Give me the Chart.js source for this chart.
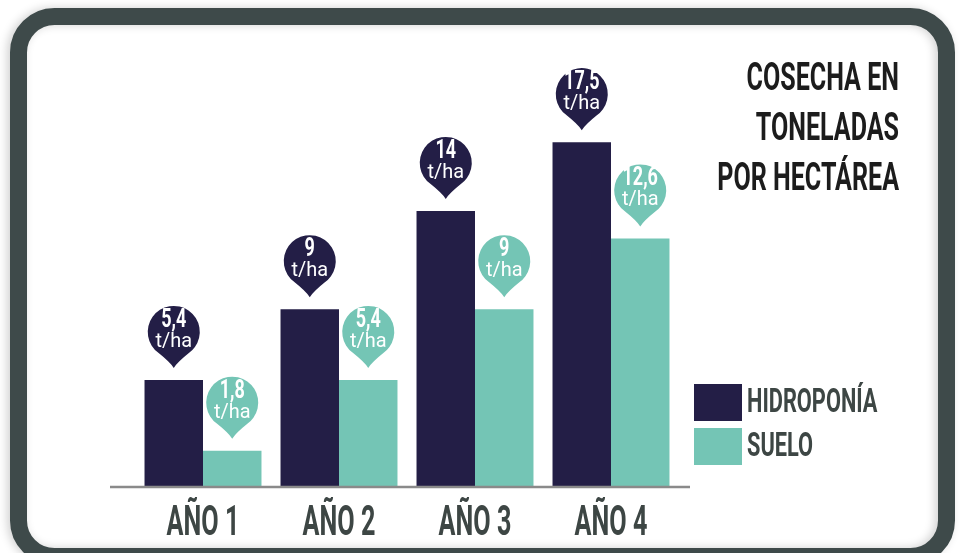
<!DOCTYPE html>
<html>
<head>
<meta charset="utf-8">
<script src="https://cdn.jsdelivr.net/npm/chart.js@4.4.0/dist/chart.umd.min.js"></script>
<style>
  body { margin: 0; background: #fff; }
  canvas { display: block; }
</style>
</head>
<body>
<canvas id="chart" width="960" height="553"></canvas>
<script>
// data
const categories = ["AÑO 1", "AÑO 2", "AÑO 3", "AÑO 4"];
const seriesNames = ["HIDROPONÍA", "SUELO"];
const hidroponia = [5.4, 9, 14, 17.5];
const suelo = [1.8, 5.4, 9, 12.6];
const titleLines = ["COSECHA EN", "TONELADAS", "POR HECTÁREA"];
const unitLabel = "t/ha";

const NAVY = "#231e46";
const TEAL = "#74c5b5";
const FRAME = "#3e4a4a";
const TEXT = "#3d4644";

// condensed text: squeeze a normal font horizontally
function squeezeText(ctx, text, x, y, font, color, align, sx) {
  ctx.save();
  ctx.font = font;
  ctx.fillStyle = color;
  ctx.textAlign = align;
  ctx.textBaseline = "alphabetic";
  ctx.translate(x, y);
  ctx.scale(sx, 1);
  ctx.fillText(text, 0, 0);
  ctx.restore();
}

function pinPath(ctx, cx, cy, r, tipY) {
  const a = 0.62;
  const lx = cx + r * Math.cos(Math.PI / 2 + a), ly = cy + r * Math.sin(Math.PI / 2 + a);
  const rx = cx + r * Math.cos(Math.PI / 2 - a), ry = cy + r * Math.sin(Math.PI / 2 - a);
  ctx.beginPath();
  ctx.moveTo(cx, tipY);
  ctx.quadraticCurveTo(cx - 4, tipY - 6, lx, ly);
  ctx.arc(cx, cy, r, Math.PI / 2 + a, Math.PI * 2 + Math.PI / 2 - a);
  ctx.quadraticCurveTo(cx + 4, tipY - 6, cx, tipY);
  ctx.closePath();
}

const decoPlugin = {
  id: "deco",
  beforeDraw(chart) {
    const ctx = chart.ctx;
    ctx.save();
    ctx.fillStyle = "#fff";
    ctx.fillRect(0, 0, chart.width, chart.height);
    // frame
    ctx.shadowColor = "rgba(0,0,0,0.18)";
    ctx.shadowBlur = 10;
    ctx.shadowOffsetX = -3;
    ctx.strokeStyle = FRAME;
    ctx.lineWidth = 17;
    ctx.beginPath();
    ctx.roundRect(18.5, 16.5, 928, 540, 36);
    ctx.stroke();
    ctx.restore();
  },
  afterDatasetsDraw(chart) {
    const ctx = chart.ctx;
    const area = chart.chartArea;
    const x = chart.scales.x;

    // axis line
    ctx.save();
    ctx.strokeStyle = "#8a8a8a";
    ctx.lineWidth = 2.5;
    ctx.beginPath();
    ctx.moveTo(110, area.bottom + 1);
    ctx.lineTo(690, area.bottom + 1);
    ctx.stroke();
    ctx.restore();

    // category labels
    categories.forEach((c, i) => {
      squeezeText(ctx, c, x.getPixelForValue(i), 535, "bold 42px Roboto", TEXT, "center", 0.6);
    });

    // value pins
    chart.data.datasets.forEach((ds, di) => {
      const meta = chart.getDatasetMeta(di);
      meta.data.forEach((bar, i) => {
        const cx = bar.x;
        const tipY = bar.y - 12;
        const cy = tipY - 36;
        ctx.save();
        ctx.fillStyle = ds.backgroundColor;
        pinPath(ctx, cx, cy, 26, tipY);
        ctx.fill();
        ctx.restore();
        const txt = String(ds.data[i]).replace(".", ",");
        squeezeText(ctx, txt, cx, cy - 5, "bold 25px Roboto", "#fff", "center", 0.72);
        squeezeText(ctx, unitLabel, cx, cy + 15, "21px Roboto", "#fff", "center", 0.95);
      });
    });

    // title
    titleLines.forEach((t, i) => {
      squeezeText(ctx, t, 899, 90 + i * 50, "bold 38px Roboto", "#1c1c1c", "right", 0.66);
    });

    // legend
    chart.data.datasets.forEach((ds, di) => {
      const top = 384 + di * 44;
      ctx.fillStyle = ds.backgroundColor;
      ctx.fillRect(694, top, 48, 37);
      squeezeText(ctx, ds.label, 747, top + 28, "bold 33px Roboto", TEXT, "left", 0.66);
    });
  }
};

new Chart(document.getElementById("chart").getContext("2d"), {
  type: "bar",
  data: {
    labels: categories,
    datasets: [
      { label: seriesNames[0], data: hidroponia, backgroundColor: NAVY },
      { label: seriesNames[1], data: suelo, backgroundColor: TEAL }
    ]
  },
  options: {
    responsive: false,
    animation: false,
    layout: { padding: { left: 135, right: 281, top: 93, bottom: 67 } },
    datasets: { bar: { categoryPercentage: 0.86, barPercentage: 1 } },
    scales: {
      x: { display: false },
      y: { display: false, min: 0, max: 20 }
    },
    plugins: { legend: { display: false }, tooltip: { enabled: false } }
  },
  plugins: [decoPlugin]
});
</script>
</body>
</html>
